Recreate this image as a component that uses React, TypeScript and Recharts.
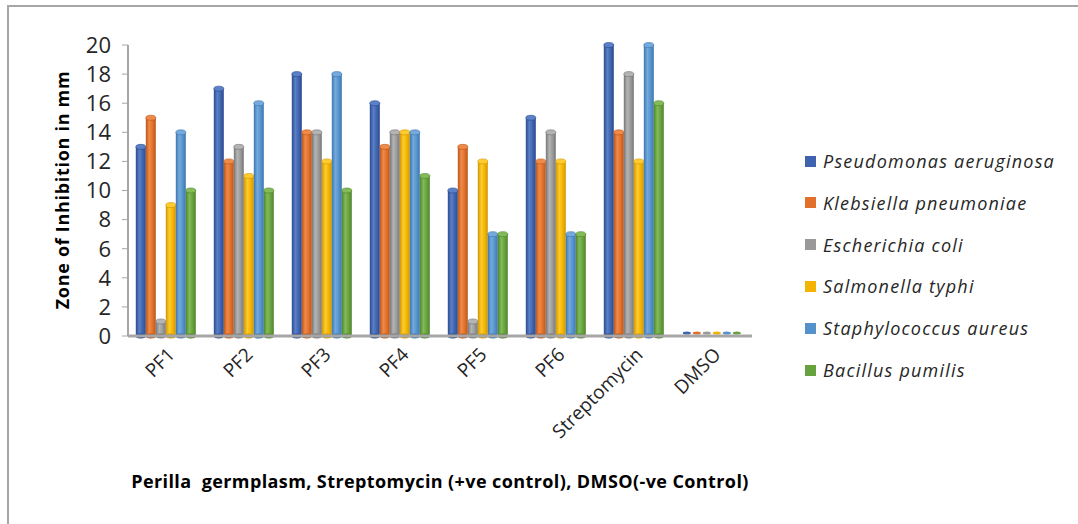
import { BarChart, Bar, XAxis, YAxis } from 'recharts';

const categories = ['PF1', 'PF2', 'PF3', 'PF4', 'PF5', 'PF6', 'Streptomycin', 'DMSO'];
const pseudomonas = [13, 17, 18, 16, 10, 15, 20, 0];
const klebsiella = [15, 12, 14, 13, 13, 12, 14, 0];
const ecoli = [1, 13, 14, 14, 1, 14, 18, 0];
const salmonella = [9, 11, 12, 14, 12, 12, 12, 0];
const staphylococcus = [14, 16, 18, 14, 7, 7, 20, 0];
const bacillus = [10, 10, 10, 11, 7, 7, 16, 0];
const yTicks = [0, 2, 4, 6, 8, 10, 12, 14, 16, 18, 20];

const series = [
  { key: 'pa', name: 'Pseudomonas aeruginosa', values: pseudomonas, color: '#3f63ae', dark: '#2a4a8c', light: '#5a80c8' },
  { key: 'kp', name: 'Klebsiella pneumoniae', values: klebsiella, color: '#e0702a', dark: '#b9561b', light: '#f08a48' },
  { key: 'ec', name: 'Escherichia coli', values: ecoli, color: '#999999', dark: '#767676', light: '#b4b4b4' },
  { key: 'st', name: 'Salmonella typhi', values: salmonella, color: '#f2b400', dark: '#cf9700', light: '#ffcb2e' },
  { key: 'sa', name: 'Staphylococcus aureus', values: staphylococcus, color: '#5592cc', dark: '#3c76ae', light: '#74aadd' },
  { key: 'bp', name: 'Bacillus pumilis', values: bacillus, color: '#67a23e', dark: '#4e842b', light: '#82bb57' },
];

const data = categories.map((c, i) => {
  const row: Record<string, string | number> = { category: c };
  series.forEach((s) => {
    row[s.key] = s.values[i];
  });
  return row;
});

const FONT = '"Open Sans", "Liberation Sans", sans-serif';

const Cylinder = (props: any) => {
  const { x, y, width, height, gid, s } = props;
  const ry = 2.5;
  if (!height || height < 1) {
    return <ellipse cx={x + width / 2} cy={y - 3} rx={width / 2 - 1} ry={1.5} fill={s.color} />;
  }
  return (
    <g>
      <rect x={x} y={y} width={width} height={height} fill={`url(#${gid})`} />
      <ellipse cx={x + width / 2} cy={y + height} rx={width / 2} ry={ry} fill={s.dark} />
      <ellipse cx={x + width / 2} cy={y} rx={width / 2} ry={ry} fill={s.light} stroke={s.dark} strokeWidth={0.6} />
    </g>
  );
};

const XTick = (props: any) => {
  const { x, y, payload } = props;
  return (
    <g transform={`translate(${x - 1},${y + 2})`}>
      <text
        textAnchor="end"
        transform="rotate(-45)"
        dy={14}
        fontSize={19}
        fontFamily={FONT}
        fill="#262626"
      >
        {payload.value}
      </text>
    </g>
  );
};

export default function App() {
  return (
    <div style={{ position: 'absolute', left: 0, top: 0, width: 1078, height: 524, background: '#fff', fontFamily: FONT }}>
      <div
        style={{
          position: 'absolute',
          left: 7,
          top: 5,
          width: 1078,
          height: 524,
          borderLeft: '2px solid #a6a6a6',
          borderTop: '2px solid #a6a6a6',
        }}
      />
      <BarChart
        width={1078}
        height={524}
        data={data}
        margin={{ top: 45, right: 326, left: 68, bottom: 0 }}
        barCategoryGap="10%"
        barGap={0}
        style={{ position: 'absolute', left: 0, top: 0 }}
      >
        <defs>
          {series.map((s) => (
            <linearGradient key={s.key} id={`g-${s.key}`} x1="0" x2="1" y1="0" y2="0">
              <stop offset="0%" stopColor={s.dark} />
              <stop offset="35%" stopColor={s.light} />
              <stop offset="70%" stopColor={s.color} />
              <stop offset="100%" stopColor={s.dark} />
            </linearGradient>
          ))}
        </defs>
        <XAxis
          dataKey="category"
          height={188}
          interval={0}
          tickLine={false}
          axisLine={{ stroke: '#a6a6a6', strokeWidth: 3 }}
          tick={<XTick />}
        />
        <YAxis
          width={60}
          domain={[0, 20]}
          ticks={yTicks}
          interval={0}
          tickSize={6}
          tickLine={{ stroke: '#a6a6a6' }}
          axisLine={{ stroke: '#a6a6a6', strokeWidth: 2 }}
          tick={{ fontSize: 22, fill: '#262626', fontFamily: FONT }}
          tickMargin={11}
        />
        {series.map((s) => (
          <Bar
            key={s.key}
            dataKey={s.key}
            name={s.name}
            fill={s.color}
            isAnimationActive={false}
            shape={(p: any) => <Cylinder {...p} gid={`g-${s.key}`} s={s} />}
          />
        ))}
      </BarChart>
      <div
        style={{
          position: 'absolute',
          left: 62,
          top: 190,
          transform: 'translate(-50%, -50%) rotate(-90deg)',
          whiteSpace: 'nowrap',
          fontWeight: 700,
          fontSize: 18,
          letterSpacing: 0.7,
          color: '#000',
        }}
      >
        Zone of Inhibition in mm
      </div>
      <div
        style={{
          position: 'absolute',
          left: 440,
          top: 481,
          transform: 'translate(-50%, -50%)',
          whiteSpace: 'pre',
          fontWeight: 700,
          fontSize: 18,
          letterSpacing: 0.4,
          color: '#000',
        }}
      >
        {'Perilla  germplasm, Streptomycin (+ve control), DMSO(-ve Control)'}
      </div>
      {series.map((s, i) => (
        <div
          key={s.key}
          style={{
            position: 'absolute',
            left: 805,
            top: 161 + i * 41.8,
            transform: 'translateY(-50%)',
            display: 'flex',
            alignItems: 'center',
            whiteSpace: 'nowrap',
          }}
        >
          <span style={{ width: 11, height: 11, background: s.color, marginRight: 7, display: 'inline-block' }} />
          <span style={{ fontStyle: 'italic', fontSize: 18, letterSpacing: 1.2, color: '#262626' }}>{s.name}</span>
        </div>
      ))}
    </div>
  );
}
